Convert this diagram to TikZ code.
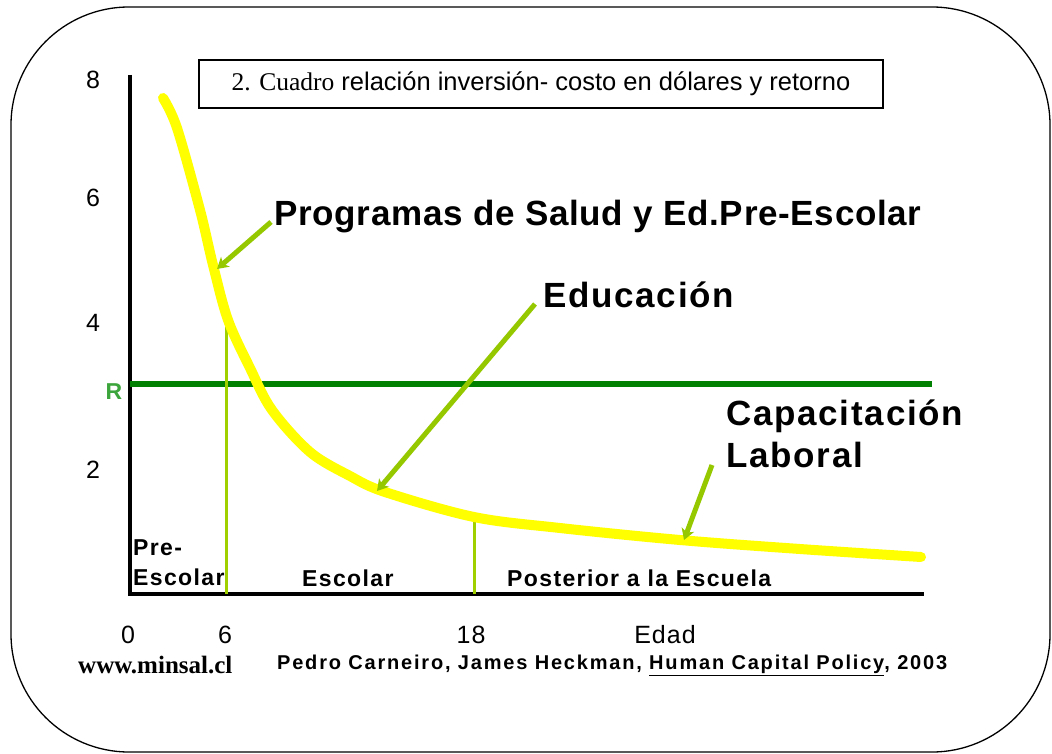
\documentclass[tikz,border=0pt]{standalone}
\usepackage{fontspec}
\setmainfont{Liberation Sans}
\newfontfamily\timesf{Liberation Serif}
\newfontfamily\bigsp[LetterSpace=5]{Liberation Sans}
\newfontfamily\progsp[LetterSpace=2]{Liberation Sans}
\newfontfamily\segsp[LetterSpace=6]{Liberation Sans}
\newfontfamily\citesp[LetterSpace=9]{Liberation Sans}
\newfontfamily\ticksp[LetterSpace=4]{Liberation Sans}
\usetikzlibrary{arrows.meta}
\definecolor{yel}{RGB}{255,255,0}
\definecolor{limeg}{RGB}{160,208,0}
\definecolor{arrg}{RGB}{150,200,0}
\definecolor{dgreen}{RGB}{0,128,0}
\definecolor{rgreen}{RGB}{60,165,60}
\tikzset{
  axis/.style={line width=4pt},
  ticklab/.style={font=\ticksp\fontsize{25}{30}\selectfont, inner sep=0pt},
  biglab/.style={font=\bigsp\bfseries\fontsize{35}{42}\selectfont, inner sep=0pt, anchor=west},
  seglab/.style={font=\segsp\bfseries\fontsize{23}{30}\selectfont, inner sep=0pt, anchor=west},
  pointer/.style={arrg, line width=5pt, -{Stealth[length=11pt,width=13pt,inset=3pt]}},
  divider/.style={limeg, line width=3pt},
}
\begin{document}
\begin{tikzpicture}[x=1pt,y=-1pt]
\useasboundingbox (0,0) rectangle (1052,754);
% frame
\draw[line width=1.3pt, rounded corners=118pt] (11,7) rectangle (1050,752);
% title box
\node[draw, line width=1.3pt, minimum width=684pt, minimum height=48pt, inner sep=0pt,
      font=\fontsize{25.5}{30}\selectfont] (title) at (541,84)
  {{\timesf 2. Cuadro} relación inversión- costo en dólares y retorno};
% axes
\coordinate (ytop) at (130,75);
\coordinate (orig) at (130,594);
\coordinate (xend) at (924,594);
\draw[axis] (ytop) -- (orig) -- (xend);
% R line
\coordinate (r0) at (130,384);
\coordinate (r1) at (932,384);
\draw[dgreen, line width=6pt] (r0) -- (r1);
% dividers
\coordinate (d6a) at (226,322);
\coordinate (d6b) at (226,594);
\coordinate (d18a) at (474,518);
\coordinate (d18b) at (474,594);
\draw[divider] (d6a) -- (d6b);
\draw[divider] (d18a) -- (d18b);
% curve
\draw[yel, line width=10pt, line cap=round] plot[smooth, tension=0.55] coordinates
  {(163,98) (177,128) (200,210) (213,265) (228,320) (250,368) (272,410) (310,452) (350,476) (385,492) (474,517) (560,528) (680,540) (800,549) (921,557)};
% y labels
\node[ticklab] (y8) at (93,80) {8};
\node[ticklab] (y6) at (93,198) {6};
\node[ticklab] (y4) at (93,323) {4};
\node[ticklab, text=rgreen, font=\bfseries\fontsize{23}{26}\selectfont] (yR) at (114,392) {R};
\node[ticklab] (y2) at (93,470) {2};
% x labels
\node[ticklab] (x0) at (128,635) {0};
\node[ticklab] (x6) at (225,635) {6};
\node[ticklab] (x18) at (471,635) {18};
\node[ticklab] (xe) at (665,635) {Edad};
% big labels
\node[biglab, font=\progsp\bfseries\fontsize{35}{42}\selectfont] (prog) at (274,217) {Programas de Salud y Ed.Pre-Escolar};
\node[biglab] (edu) at (543,295) {Educación};
\node[biglab, align=left] (cap) at (726,434) {Capacitación\\Laboral};
% pointers
\coordinate (p1s) at (271,222);
\coordinate (p1e) at (217,269);
\coordinate (p2s) at (535,304);
\coordinate (p2e) at (377,491);
\coordinate (p3s) at (712,465);
\coordinate (p3e) at (684,540);
\draw[pointer] (p1s) -- (p1e);
\draw[pointer] (p2s) -- (p2e);
\draw[pointer] (p3s) -- (p3e);
% segment labels
\node[seglab, align=left] (pre) at (133,563) {Pre-\\Escolar};
\node[seglab] (esc) at (302,578) {Escolar};
\node[seglab] (post) at (507,578) {Posterior a la Escuela};
% footer
\node[inner sep=0pt, anchor=west, font=\timesf\bfseries\fontsize{25}{28}\selectfont] (web) at (78,665) {www.minsal.cl};
\node[inner sep=0pt, anchor=west, font=\citesp\bfseries\fontsize{20}{22}\selectfont] (cite) at (277,665)
  {Pedro Carneiro, James Heckman, \underline{Human Capital Policy}, 2003};
\end{tikzpicture}
\end{document}
